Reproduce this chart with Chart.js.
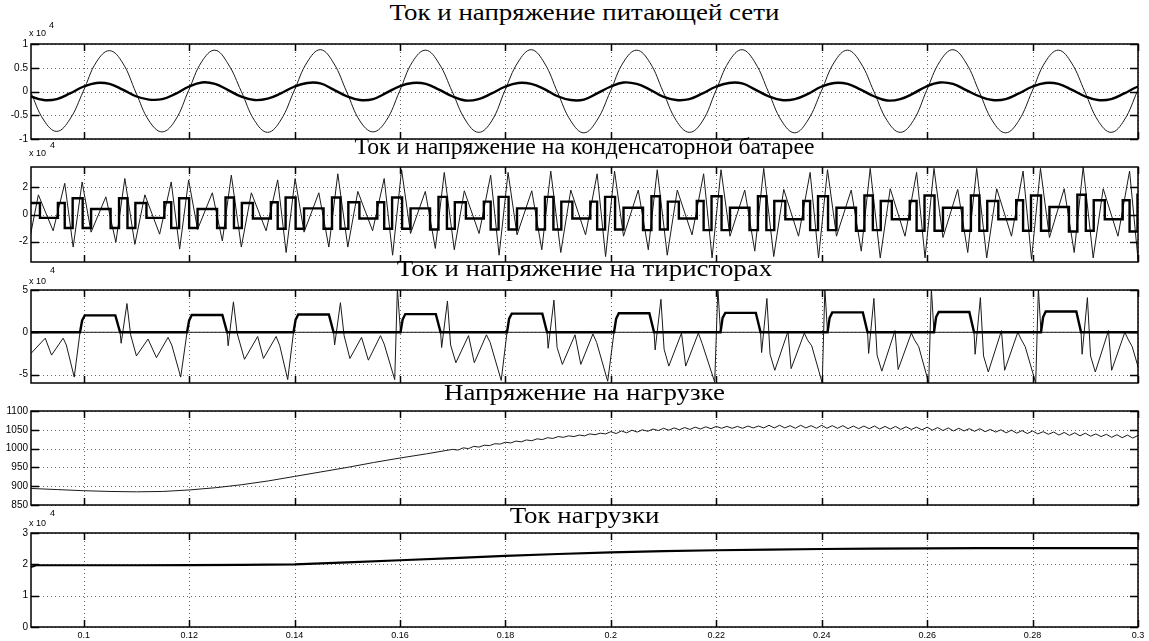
<!DOCTYPE html>
<html>
<head>
<meta charset="utf-8">
<script src="https://cdn.jsdelivr.net/npm/chart.js@4/dist/chart.umd.min.js"></script>
<style>
  body { margin: 0; background: #fff; width: 1149px; height: 641px; overflow: hidden; position: relative; }
  canvas { position: absolute; left: 0; }
  .title { position: absolute; left: 0; width: 1169px; text-align: center; font-family: "Liberation Serif", "Times New Roman", serif; font-size: 23px; line-height: 24px; color: #000; transform: scaleX(1.17); transform-origin: 584.5px 0; }
  .expo { position: absolute; font-family: "Liberation Sans", Arial, sans-serif; font-size: 9px; line-height: 10px; color: #000; }
</style>
</head>
<body>
<canvas id="supply" width="1149" height="113" style="top:35px"></canvas>
<canvas id="cap" width="1149" height="113" style="top:158px"></canvas>
<canvas id="thy" width="1149" height="111" style="top:281px"></canvas>
<canvas id="loadU" width="1149" height="112" style="top:402px"></canvas>
<canvas id="loadI" width="1149" height="119" style="top:524px"></canvas>

<div class="title" style="top:1px">Ток и напряжение питающей сети</div>
<div class="title" style="top:135px;transform:scaleX(1.03)">Ток и напряжение на конденсаторной батарее</div>
<div class="title" style="top:257px">Ток и напряжение на тиристорах</div>
<div class="title" style="top:381px">Напряжение на нагрузке</div>
<div class="title" style="top:504px">Ток нагрузки</div>

<div class="expo" style="left:29px;top:28px">x 10</div><div class="expo" style="left:49px;top:20px">4</div>
<div class="expo" style="left:29px;top:148px">x 10</div><div class="expo" style="left:50px;top:140px">4</div>
<div class="expo" style="left:29px;top:276px">x 10</div><div class="expo" style="left:50px;top:265px">4</div>
<div class="expo" style="left:29px;top:518px">x 10</div><div class="expo" style="left:50px;top:508px">4</div>

<script>
// time in ms, values in the axis units (x10^4 where the axis says so)
const xTicks = [0.1, 0.12, 0.14, 0.16, 0.18, 0.2, 0.22, 0.24, 0.26, 0.28, 0.3];
const supplyTicks = [-1, -0.5, 0, 0.5, 1];
const capTicks = [-2, 0, 2];
const thyTicks = [-5, 0, 5];
const loadUTicks = [850, 900, 950, 1000, 1050, 1100];
const loadITicks = [0, 1, 2, 3];

const supplyT = [87.4, 89.9, 92.4, 94.9, 97.4, 99.9, 102.4, 104.9, 107.4, 109.9, 112.4, 114.9, 117.4, 119.9,
  122.4, 124.9, 127.4, 129.9, 132.4, 134.9, 137.4, 139.9, 142.4, 144.9, 147.4, 149.9, 152.4, 154.9, 157.4,
  159.9, 162.4, 164.9, 167.4, 169.9, 172.4, 174.9, 177.4, 179.9, 182.4, 184.9, 187.4, 189.9, 192.4, 194.9,
  197.4, 199.9, 202.4, 204.9, 207.4, 209.9, 212.4, 214.9, 217.4, 219.9, 222.4, 224.9, 227.4, 229.9, 232.4,
  234.9, 237.4, 239.9, 242.4, 244.9, 247.4, 249.9, 252.4, 254.9, 257.4, 259.9, 262.4, 264.9, 267.4, 269.9,
  272.4, 274.9, 277.4, 279.9, 282.4, 284.9, 287.4, 289.9, 292.4, 294.9, 297.4, 299.9, 302.4];
const supplyU = [0.6,
  0, -0.6, -0.84, -0.58, 0, 0.62, 0.86, 0.6,
  -0.02, -0.62, -0.85, -0.6, 0.02, 0.63, 0.87, 0.58,
  0, -0.61, -0.86, -0.6, 0.01, 0.62, 0.88, 0.6,
  -0.01, -0.62, -0.85, -0.61, 0, 0.63, 0.87, 0.59,
  0, -0.6, -0.86, -0.62, 0.02, 0.62, 0.88, 0.6,
  -0.02, -0.62, -0.87, -0.6, 0, 0.62, 0.87, 0.61,
  0, -0.61, -0.86, -0.62, 0.01, 0.63, 0.88, 0.6,
  -0.01, -0.62, -0.87, -0.6, 0, 0.62, 0.87, 0.6,
  0, -0.61, -0.86, -0.61, 0.02, 0.63, 0.88, 0.6,
  -0.01, -0.62, -0.87, -0.61, 0, 0.62, 0.87, 0.6,
  0, -0.61, -0.86, -0.6, 0.01, 0.62];
const supplyI = [0.04,
  -0.1, -0.18, -0.16, -0.04, 0.1, 0.18, 0.16, 0.04,
  -0.1, -0.17, -0.16, -0.05, 0.1, 0.19, 0.16, 0.03,
  -0.11, -0.18, -0.15, -0.04, 0.1, 0.18, 0.17, 0.04,
  -0.1, -0.18, -0.16, -0.03, 0.11, 0.18, 0.16, 0.04,
  -0.1, -0.19, -0.16, -0.04, 0.1, 0.18, 0.16, 0.05,
  -0.1, -0.18, -0.17, -0.04, 0.1, 0.19, 0.16, 0.04,
  -0.11, -0.18, -0.16, -0.04, 0.1, 0.18, 0.17, 0.04,
  -0.1, -0.18, -0.16, -0.05, 0.1, 0.18, 0.16, 0.04,
  -0.1, -0.19, -0.16, -0.04, 0.11, 0.19, 0.16, 0.03,
  -0.1, -0.18, -0.16, -0.04, 0.1, 0.18, 0.16, 0.04,
  -0.1, -0.18, -0.16, -0.04, 0.1, 0.18];

const capIT = [88.1, 89.6,
  91.7, 95.1, 96.4, 97.9, 99.8, 101.4, 105.1, 106.7, 108.3, 109.8,
  111.9, 115.3, 116.6, 118.1, 120.0, 121.6, 125.3, 126.9, 128.5, 130.0,
  132.1, 135.5, 136.8, 138.3, 140.2, 141.8, 145.5, 147.1, 148.7, 150.2,
  152.3, 155.7, 157.0, 158.5, 160.4, 162.0, 165.7, 167.3, 168.9, 170.4,
  172.5, 175.9, 177.2, 178.7, 180.6, 182.2, 185.9, 187.5, 189.1, 190.6,
  192.7, 196.1, 197.4, 198.9, 200.8, 202.4, 206.1, 207.7, 209.3, 210.8,
  212.9, 216.3, 217.6, 219.1, 221.0, 222.6, 226.3, 227.9, 229.5, 231.0,
  233.1, 236.5, 237.8, 239.3, 241.2, 242.8, 246.5, 248.1, 249.7, 251.2,
  253.3, 256.7, 258.0, 259.5, 261.4, 263.0, 266.7, 268.3, 269.9, 271.4,
  273.5, 276.9, 278.2, 279.7, 281.6, 283.2, 286.9, 288.5, 290.1, 291.6,
  293.7, 297.1, 298.4, 299.9, 301.8];
const capI = [-1.0, 0.85,
  -0.25, 0.85, -1.0, 1.2, -1.0, 0.4, -1.0, 1.2, -1.0, 0.85,
  -0.25, 0.9, -1.0, 1.2, -1.0, 0.4, -1.0, 1.25, -1.0, 0.85,
  -0.3, 0.9, -1.05, 1.25, -1.05, 0.45, -1.05, 1.25, -1.05, 0.9,
  -0.3, 0.9, -1.05, 1.25, -1.05, 0.45, -1.1, 1.3, -1.05, 0.9,
  -0.3, 0.95, -1.1, 1.3, -1.1, 0.45, -1.1, 1.3, -1.1, 0.95,
  -0.3, 0.95, -1.1, 1.3, -1.1, 0.5, -1.15, 1.35, -1.1, 0.95,
  -0.3, 1.0, -1.15, 1.35, -1.15, 0.5, -1.15, 1.35, -1.15, 1.0,
  -0.35, 1.0, -1.15, 1.35, -1.15, 0.5, -1.2, 1.4, -1.15, 1.0,
  -0.35, 1.0, -1.2, 1.4, -1.2, 0.5, -1.2, 1.4, -1.2, 1.0,
  -0.35, 1.05, -1.2, 1.4, -1.2, 0.55, -1.25, 1.45, -1.2, 1.05,
  -0.35, 1.05, -1.25, 1.45, -1.25];

const capUT = [87.6, 89.5,
  91.4, 94.2, 96.4, 98.0, 99.7, 101.4, 104.2, 106.1, 107.8, 109.7,
  111.6, 114.4, 116.6, 118.2, 119.9, 121.6, 124.4, 126.3, 128.0, 129.9,
  131.8, 134.6, 136.8, 138.4, 140.1, 141.8, 144.6, 146.5, 148.2, 150.1,
  152.0, 154.8, 157.0, 158.6, 160.3, 162.0, 164.8, 166.7, 168.4, 170.3,
  172.2, 175.0, 177.2, 178.8, 180.5, 182.2, 185.0, 186.9, 188.6, 190.5,
  192.4, 195.2, 197.4, 199.0, 200.7, 202.4, 205.2, 207.1, 208.8, 210.7,
  212.6, 215.4, 217.6, 219.2, 220.9, 222.6, 225.4, 227.3, 229.0, 230.9,
  232.8, 235.6, 237.8, 239.4, 241.1, 242.8, 245.6, 247.5, 249.2, 251.1,
  253.0, 255.8, 258.0, 259.6, 261.3, 263.0, 265.8, 267.7, 269.4, 271.3,
  273.2, 276.0, 278.2, 279.8, 281.5, 283.2, 286.0, 287.9, 289.6, 291.5,
  293.4, 296.2, 298.4, 300.0, 301.7];
const capU = [2.7, -2.3,
  1.45, -1.2, 2.3, -2.4, 2.4, -1.3, 1.3, -2.05, 2.65, -2.2,
  1.45, -1.45, 2.4, -2.55, 2.55, -1.1, 1.6, -1.95, 2.9, -2.4,
  1.6, -1.2, 2.55, -2.8, 2.65, -1.3, 1.6, -2.4, 3.0, -2.4,
  1.7, -1.2, 2.65, -3.0, 3.3, -1.4, 1.7, -2.5, 3.1, -2.6,
  1.75, -1.4, 2.9, -3.0, 3.1, -1.5, 1.75, -2.6, 3.2, -2.8,
  1.8, -1.5, 3.0, -3.1, 3.2, -1.6, 1.8, -2.6, 3.3, -3.0,
  1.8, -1.5, 3.0, -3.2, 3.3, -1.6, 1.8, -2.7, 3.4, -3.1,
  1.85, -1.6, 3.1, -3.2, 3.3, -1.6, 1.8, -2.7, 3.4, -3.2,
  1.9, -1.6, 3.1, -3.2, 3.4, -1.7, 1.85, -2.8, 3.4, -3.2,
  1.9, -1.6, 3.2, -3.3, 3.4, -1.7, 1.9, -2.8, 3.5, -3.2,
  1.9, -1.6, 3.2, -3.3, 3.4];

const thyIT = [87, 99.3, 99.7, 100.2, 106.0, 106.9, 119.6, 120.0, 120.5, 126.3, 127.2,
  139.8, 140.2, 140.7, 146.5, 147.4, 160.1, 160.5, 161.0, 166.8, 167.7,
  180.3, 180.7, 181.2, 187.0, 187.9, 200.6, 201.0, 201.5, 207.3, 208.2,
  220.8, 221.2, 221.7, 227.5, 228.4, 241.1, 241.5, 242.0, 247.8, 248.7,
  261.3, 261.7, 262.2, 268.0, 268.9, 281.6, 282.0, 282.5, 288.3, 289.2, 302];
const thyI = [0, 0, 1.4, 2.0, 2.0, 0, 0, 1.4, 2.05, 2.05, 0,
  0, 1.5, 2.1, 2.1, 0, 0, 1.5, 2.15, 2.15, 0,
  0, 1.6, 2.2, 2.2, 0, 0, 1.6, 2.25, 2.25, 0,
  0, 1.7, 2.3, 2.3, 0, 0, 1.7, 2.35, 2.35, 0,
  0, 1.8, 2.4, 2.4, 0, 0, 1.8, 2.45, 2.45, 0, 0];

const thyUT = [87.0, 90.0, 92.7, 93.9, 96.1, 96.7, 98.2, 99.3,
  106.9, 107.1, 108.2, 108.9, 110.0, 112.2, 113.8, 116.0, 116.7, 118.4, 119.6,
  127.2, 127.4, 128.4, 129.1, 130.5, 133.0, 134.1, 136.5, 137.2, 138.7, 139.8,
  147.4, 147.6, 148.7, 149.4, 150.5, 152.7, 154.0, 156.3, 157.0, 159.0, 159.5, 160.1,
  167.7, 167.9, 169.0, 169.6, 170.6, 173.0, 174.1, 176.4, 177.1, 179.2, 180.3,
  187.9, 188.1, 189.2, 189.8, 190.8, 193.2, 194.3, 196.6, 197.3, 199.4, 200.6,
  208.2, 208.4, 209.5, 210.1, 211.0, 213.4, 214.2, 216.6, 217.3, 219.7, 220.3, 220.8,
  228.4, 228.6, 229.6, 230.2, 231.1, 233.6, 234.2, 236.7, 237.3, 238.1, 240.1, 240.6, 241.1,
  248.7, 248.9, 249.9, 250.5, 251.4, 253.9, 254.5, 257.0, 257.6, 258.4, 260.3, 260.8, 261.3,
  268.9, 269.1, 270.1, 270.7, 271.6, 274.1, 274.7, 277.2, 277.8, 278.6, 280.6, 281.1, 281.6,
  289.2, 289.4, 290.4, 291.0, 291.9, 294.4, 295.0, 297.5, 298.1, 298.9, 300.9];
const thyU = [-1.2, -2.5, -0.7, -2.7, -0.7, -1.5, -5.3, 0,
  0, -1.3, 3.4, -0.3, -2.8, -0.8, -3.0, -0.6, -1.5, -5.3, 0,
  0, -1.6, 3.6, -0.1, -3.2, -0.5, -3.1, -0.5, -1.6, -5.6, 0,
  0, -1.5, 3.5, -0.4, -3.1, -0.6, -3.3, -0.4, -1.4, -5.6, 5.2, 0,
  0, -1.8, 3.7, -1.5, -3.6, -0.4, -3.6, -0.3, -1.2, -5.7, 0,
  0, -1.9, 3.8, -1.8, -3.8, -0.3, -3.8, -0.2, -1.2, -5.8, 0,
  0, -2.1, 3.9, -2.0, -4.0, -0.1, -4.0, -0.1, -1.3, -5.9, 5.2, 0,
  0, -2.4, 4.0, -2.6, -4.5, 0.1, -4.3, -0.1, -0.9, -1.6, -6.0, 5.2, 0,
  0, -2.5, 4.0, -2.7, -4.6, 0.2, -4.4, -0.1, -0.9, -1.7, -6.0, 5.2, 0,
  0, -2.6, 4.1, -2.8, -4.7, 0.2, -4.5, 0.0, -0.8, -1.7, -6.0, 5.2, 0,
  0, -2.6, 4.1, -2.8, -4.7, 0.2, -4.5, 0.0, -0.8, -1.7, -6.0];

const loadUT = [87, 90, 95, 100, 105, 110, 115, 120, 125, 130, 135, 140, 145, 150, 155, 160, 165,
  170, 171, 172, 173, 174, 175, 176, 177, 178, 179, 180, 181, 182, 183, 184, 185, 186, 187, 188, 189,
  190, 191, 192, 193, 194, 195, 196, 197, 198, 199, 200, 201, 202, 203, 204, 205, 206, 207, 208, 209,
  210, 211, 212, 213, 214, 215, 216, 217, 218, 219, 220, 221, 222, 223, 224, 225, 226, 227, 228, 229,
  230, 231, 232, 233, 234, 235, 236, 237, 238, 239, 240, 241, 242, 243, 244, 245, 246, 247, 248, 249,
  250, 251, 252, 253, 254, 255, 256, 257, 258, 259, 260, 261, 262, 263, 264, 265, 266, 267, 268, 269,
  270, 271, 272, 273, 274, 275, 276, 277, 278, 279, 280, 281, 282, 283, 284, 285, 286, 287, 288, 289,
  290, 291, 292, 293, 294, 295, 296, 297, 298, 299, 300];
const loadU = [896, 894, 891, 888, 886, 885, 886, 890, 896, 904, 914, 926, 938, 950, 963, 975, 986,
  998, 996, 1002, 1000, 1006, 1004, 1009, 1008, 1013, 1012, 1017, 1015, 1020, 1018, 1023, 1021, 1026, 1024, 1029, 1027,
  1032, 1030, 1034, 1032, 1036, 1034, 1039, 1037, 1041, 1039, 1045, 1040, 1047, 1042, 1049, 1044, 1050, 1046, 1052, 1048,
  1054, 1049, 1055, 1050, 1056, 1051, 1057, 1052, 1058, 1053, 1059, 1054, 1059, 1054, 1059, 1054, 1060, 1055, 1060, 1055,
  1062, 1055, 1062, 1055, 1061, 1054, 1062, 1055, 1061, 1054, 1062, 1054, 1061, 1054, 1061, 1053, 1060, 1053, 1060, 1053,
  1060, 1052, 1059, 1052, 1059, 1051, 1058, 1051, 1057, 1050, 1057, 1049, 1056, 1048, 1055, 1047, 1054, 1047, 1053, 1046,
  1053, 1045, 1051, 1044, 1050, 1042, 1049, 1041, 1048, 1040, 1047, 1039, 1045, 1038, 1044, 1036, 1043, 1035, 1042, 1034,
  1041, 1033, 1039, 1032, 1038, 1030, 1037, 1029, 1036, 1028, 1035];

const loadIT = [87, 90, 91, 100, 110, 120, 130, 140, 150, 160, 170, 180, 190, 200, 210, 220, 230, 240, 250, 260, 270, 280, 290, 300];
const loadI = [1.9, 1.92, 1.97, 1.97, 1.97, 1.975, 1.98, 2.0, 2.06, 2.13, 2.2, 2.27, 2.33, 2.38, 2.42, 2.45, 2.47, 2.49, 2.5, 2.51, 2.52, 2.52, 2.52, 2.52];

Chart.defaults.font.family = "'Liberation Sans', Arial, sans-serif";
Chart.defaults.font.size = 10;
Chart.defaults.color = "#000";

function toPoints(times, values) {
  return times.map((ms, i) => ({ x: ms / 1000, y: values[i] }));
}

function thin(times, values, extra) {
  return Object.assign({ data: toPoints(times, values), borderColor: "#1a1a1a", borderWidth: 1, pointRadius: 0, tension: 0 }, extra || {});
}

function thick(times, values, extra) {
  return Object.assign({ data: toPoints(times, values), borderColor: "#000", borderWidth: 2.4, pointRadius: 0, tension: 0 }, extra || {});
}

// dotted grid under the data, box and inward ticks on top, like a MATLAB axes
const matlabAxes = {
  id: "matlabAxes",
  beforeDatasetsDraw(chart) {
    const { ctx, chartArea: a } = chart;
    const sx = chart.scales.x, sy = chart.scales.y;
    ctx.save();
    ctx.strokeStyle = "#666";
    ctx.lineWidth = 1;
    ctx.setLineDash([1, 3]);
    ctx.beginPath();
    sx.ticks.forEach(t => {
      const px = Math.round(sx.getPixelForValue(t.value)) + 0.5;
      ctx.moveTo(px, a.top);
      ctx.lineTo(px, a.bottom);
    });
    sy.ticks.forEach(t => {
      const py = Math.round(sy.getPixelForValue(t.value)) + 0.5;
      ctx.moveTo(a.left, py);
      ctx.lineTo(a.right, py);
    });
    ctx.stroke();
    ctx.restore();
  },
  afterDraw(chart) {
    const { ctx, chartArea: a } = chart;
    const sx = chart.scales.x, sy = chart.scales.y;
    ctx.save();
    ctx.strokeStyle = "#000";
    ctx.lineWidth = 1.5;
    ctx.strokeRect(a.left, a.top, a.right - a.left, a.bottom - a.top);
    ctx.beginPath();
    sx.ticks.forEach(t => {
      const px = Math.round(sx.getPixelForValue(t.value)) + 0.5;
      ctx.moveTo(px, a.top);
      ctx.lineTo(px, a.top + 7);
      ctx.moveTo(px, a.bottom);
      ctx.lineTo(px, a.bottom - 7);
    });
    sy.ticks.forEach(t => {
      const py = Math.round(sy.getPixelForValue(t.value)) + 0.5;
      ctx.moveTo(a.left, py);
      ctx.lineTo(a.left + 8, py);
      ctx.moveTo(a.right, py);
      ctx.lineTo(a.right - 8, py);
    });
    ctx.stroke();
    ctx.restore();
  }
};

function makePanel(id, datasets, yMin, yMax, yTicks, showX) {
  return new Chart(document.getElementById(id), {
    type: "line",
    data: { datasets },
    options: {
      responsive: false,
      animation: false,
      devicePixelRatio: 1,
      layout: { padding: { left: 0, right: 11, top: 8, bottom: showX ? 0 : 8 } },
      plugins: { legend: { display: false }, tooltip: { enabled: false } },
      scales: {
        x: {
          type: "linear",
          min: 0.09,
          max: 0.3,
          afterBuildTicks: s => { s.ticks = xTicks.map(v => ({ value: v })); },
          afterFit: s => { s.height = showX ? 16 : 0; },
          grid: { display: false, drawTicks: false },
          border: { display: false },
          ticks: { display: showX, autoSkip: false, maxRotation: 0, padding: 3, font: { size: 9 }, callback: v => String(v) }
        },
        y: {
          min: yMin,
          max: yMax,
          afterBuildTicks: s => { s.ticks = yTicks.map(v => ({ value: v })); },
          afterFit: s => { s.width = 31; },
          grid: { display: false, drawTicks: false },
          border: { display: false },
          ticks: { padding: 3, font: { size: 10 }, callback: v => String(v) }
        }
      }
    },
    plugins: [matlabAxes]
  });
}

makePanel("supply", [
  thick(supplyT, supplyI, { tension: 0.4 }),
  thin(supplyT, supplyU, { tension: 0.4 })
], -1, 1, supplyTicks, false);

makePanel("cap", [
  thick(capIT, capI, { stepped: true }),
  thin(capUT, capU)
], -3.5, 3.5, capTicks, false);

makePanel("thy", [
  thick(thyIT, thyI),
  thin(thyUT, thyU)
], -6, 5, thyTicks, false);

makePanel("loadU", [
  thin(loadUT, loadU)
], 850, 1100, loadUTicks, false);

makePanel("loadI", [
  thick(loadIT, loadI, { borderWidth: 2.2 })
], 0, 3, loadITicks, true);
</script>
</body>
</html>
